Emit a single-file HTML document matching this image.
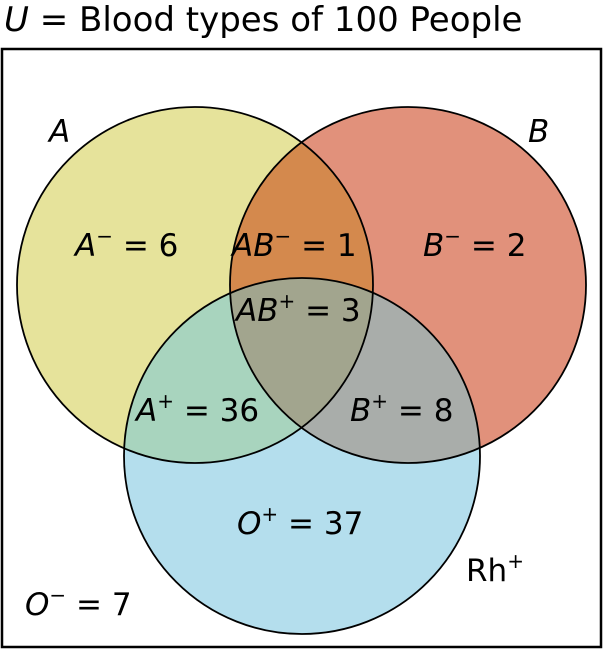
<!DOCTYPE html>
<html><head><style>
html,body{margin:0;padding:0;background:#fff;}
svg{display:block;}
text{font-family:"DejaVu Sans","Liberation Sans",sans-serif;font-size:31px;fill:#000;}
.t{font-size:34px;}
.i{font-style:italic;}
.s{font-size:20px;}
</style></head><body>
<svg width="603" height="651" viewBox="0 0 603 651" xmlns="http://www.w3.org/2000/svg">
<defs>
<clipPath id="cA"><circle cx="195" cy="285" r="178"/></clipPath>
<clipPath id="cB"><circle cx="408" cy="285" r="178"/></clipPath>
<clipPath id="cR"><circle cx="302" cy="456" r="178"/></clipPath>
</defs>
<rect x="2" y="49" width="599" height="598" fill="#fff" stroke="#000" stroke-width="2.5"/>
<circle cx="195" cy="285" r="178" fill="#e6e39b"/>
<circle cx="408" cy="285" r="178" fill="#e1917b"/>
<circle cx="302" cy="456" r="178" fill="#b4deed"/>
<g clip-path="url(#cA)"><circle cx="408" cy="285" r="178" fill="#d4894d"/><circle cx="302" cy="456" r="178" fill="#a8d4be"/></g>
<g clip-path="url(#cB)"><circle cx="302" cy="456" r="178" fill="#a9adaa"/></g>
<g clip-path="url(#cA)"><g clip-path="url(#cB)"><circle cx="302" cy="456" r="178" fill="#a2a58e"/></g></g>
<g fill="none" stroke="#000" stroke-width="1.8">
<circle cx="195" cy="285" r="178"/>
<circle cx="408" cy="285" r="178"/>
<circle cx="302" cy="456" r="178"/>
</g>
<text x="4" y="31" class="t"><tspan class="i">U</tspan> = Blood types of 100 People</text>
<text x="49" y="142" class="i">A</text>
<text x="528" y="142" class="i">B</text>
<text x="75" y="256"><tspan class="i">A</tspan><tspan class="s" dy="-13">−</tspan><tspan dy="13"> = 6</tspan></text>
<text x="232" y="256"><tspan class="i">AB</tspan><tspan class="s" dy="-13">−</tspan><tspan dy="13"> = 1</tspan></text>
<text x="423" y="256"><tspan class="i">B</tspan><tspan class="s" dy="-13">−</tspan><tspan dy="13"> = 2</tspan></text>
<text x="236" y="321"><tspan class="i">AB</tspan><tspan class="s" dy="-13">+</tspan><tspan dy="13"> = 3</tspan></text>
<text x="136" y="421"><tspan class="i">A</tspan><tspan class="s" dy="-13">+</tspan><tspan dy="13"> = 36</tspan></text>
<text x="350" y="421"><tspan class="i">B</tspan><tspan class="s" dy="-13">+</tspan><tspan dy="13"> = 8</tspan></text>
<text x="237" y="534"><tspan class="i">O</tspan><tspan class="s" dy="-13">+</tspan><tspan dy="13"> = 37</tspan></text>
<text x="466" y="581">Rh<tspan class="s" dy="-13">+</tspan></text>
<text x="25" y="615"><tspan class="i">O</tspan><tspan class="s" dy="-13">−</tspan><tspan dy="13"> = 7</tspan></text>
</svg>
</body></html>
